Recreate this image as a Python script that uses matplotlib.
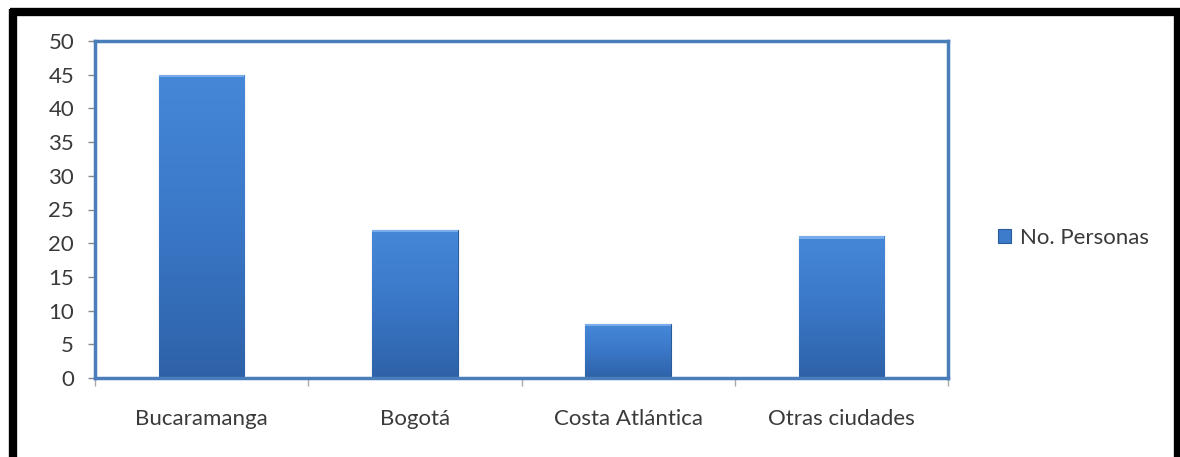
import matplotlib.pyplot as plt
import numpy as np
from matplotlib.patches import Rectangle
from matplotlib.colors import LinearSegmentedColormap

# data
categories = ["Bucaramanga", "Bogotá", "Costa Atlántica", "Otras ciudades"]
personas = [45, 22, 8, 21]
series_name = "No. Personas"
y_ticks = list(range(0, 51, 5))

plt.rcParams["font.family"] = ["Lato", "DejaVu Sans"]

fig = plt.figure(figsize=(11.8, 4.57), dpi=100)
fig.patch.set_facecolor("white")

# black frame (left, top, right) like the pasted screenshot
frame_kw = dict(color="black", lw=6, transform=fig.transFigure, solid_capstyle="butt")
fig.add_artist(plt.Line2D([13 / 1180, 13 / 1180], [0, 1 - 9 / 457], **frame_kw))
fig.add_artist(plt.Line2D([10 / 1180, 1180 / 1180], [1 - 12 / 457, 1 - 12 / 457], **frame_kw))
fig.add_artist(plt.Line2D([1178 / 1180, 1178 / 1180], [0, 1 - 9 / 457], **frame_kw))

ax = fig.add_axes([95 / 1180, 1 - 378 / 457, 853 / 1180, 337 / 457])

x = np.arange(len(categories))
bars = ax.bar(x, personas, width=0.4, color="#3D7BCB", edgecolor="#2A5A98", lw=0.8, zorder=2)

# vertical gradient on each bar, light on top, darker at the base
cmap = LinearSegmentedColormap.from_list("blu", ["#2E62A8", "#3A77C7", "#4688D8"])
grad = np.linspace(0, 1, 256).reshape(-1, 1)
for b in bars:
    x0, y0 = b.get_x(), b.get_y()
    w, h = b.get_width(), b.get_height()
    im = ax.imshow(grad, cmap=cmap, origin="lower", extent=[x0, x0 + w, y0, y0 + h],
                   aspect="auto", zorder=2.5)
    im.set_clip_path(b)
    # light bevel on top
    ax.add_patch(Rectangle((x0, y0 + h - 0.35), w, 0.35, color="#78ACEA", lw=0, zorder=3))

ax.set_xlim(-0.5, len(categories) - 0.5)
ax.set_ylim(0, 50)
ax.set_yticks(y_ticks)
ax.tick_params(axis="y", labelsize=16, colors="#888888", labelcolor="#3a3a3a", length=5, width=1, pad=10)

ax.set_xticks(x)
ax.set_xticklabels(categories)
ax.set_xticks(np.arange(-0.5, len(categories)), minor=True)
ax.tick_params(axis="x", which="major", length=0, labelsize=16, labelcolor="#3a3a3a", pad=22)
ax.tick_params(axis="x", which="minor", length=6, width=1, colors="#aaaaaa")

for s in ax.spines.values():
    s.set_color("#4A7EBB")
    s.set_linewidth(2.5)

ax.legend([bars[0]], [series_name], loc="center left", bbox_to_anchor=(1.035, 0.415),
          frameon=False, fontsize=16, handlelength=0.6, handleheight=0.6,
          handletextpad=0.4, labelcolor="#3a3a3a")

fig.savefig("out.png", dpi=100, facecolor="white")
